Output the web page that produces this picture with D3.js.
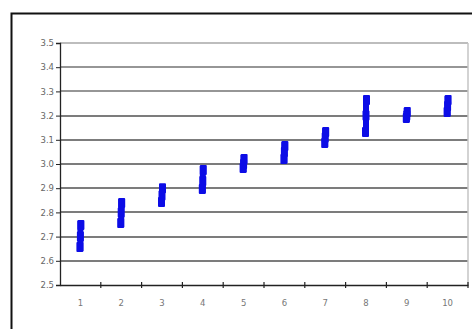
<!DOCTYPE html>
<html><head><meta charset="utf-8">
<script src="https://cdn.jsdelivr.net/npm/d3@7"></script>
<style>body{margin:0;background:#fff}svg{display:block}</style>
</head><body>
<script>
const categories = ["1","2","3","4","5","6","7","8","9","10"];
const highs = [2.748, 2.839, 2.900, 2.975, 3.021, 3.074, 3.132, 3.264, 3.215, 3.264];
const mids  = [2.700, 2.800, 2.870, 2.930, 3.000, 3.050, 3.110, 3.200, 3.200, 3.240];
const lows  = [2.657, 2.756, 2.843, 2.897, 2.983, 3.021, 3.087, 3.132, 3.190, 3.215];
const yTicks = [2.5, 2.6, 2.7, 2.8, 2.9, 3.0, 3.1, 3.2, 3.3, 3.4, 3.5];

const W = 472, H = 329;
const svg = d3.select("body").append("svg").attr("width", W).attr("height", H);
svg.append("rect").attr("width", W).attr("height", H).attr("fill", "#fff");

const x0 = 60, x1 = 468, yTop = 43, yBot = 285;
const x = d3.scaleBand().domain(categories).range([x0, x1]).padding(0);
const y = d3.scaleLinear().domain([2.5, 3.5]).range([yBot, yTop]);

// gridlines
svg.append("g").selectAll("line").data(yTicks.slice(1)).join("line")
  .attr("x1", x0).attr("x2", x1)
  .attr("y1", d => Math.round(y(d))).attr("y2", d => Math.round(y(d)))
  .style("stroke", d => d === 3.5 ? "#bdbdbd" : (d >= 3.3 ? "#969696" : "#7c7c7c"))
  .style("stroke-width", "2px");

// plot area right border
svg.append("line").attr("x1", x1).attr("x2", x1).attr("y1", yTop).attr("y2", yBot)
  .style("stroke", "#c4c4c4").style("stroke-width", "1.5px");

// outer chart border
svg.append("path").attr("d", `M11.5,${H + 2} V13.5 H${W + 2}`)
  .style("fill", "none").style("stroke", "#111").style("stroke-width", "2px");

// y axis
const yAxis = d3.axisLeft(y).tickValues(yTicks).tickFormat(d3.format(".1f")).tickSize(4).tickPadding(2);
const gy = svg.append("g").attr("transform", `translate(${x0},0)`).call(yAxis);
gy.select(".domain").style("stroke", "#222").style("stroke-width", "1.3px");
gy.selectAll(".tick line").style("stroke", "#222");
gy.selectAll("text").style("font-family", "DejaVu Sans, sans-serif").style("font-size", "8.5px")
  .style("fill", "#666");

// x axis
const xAxis = d3.axisBottom(x).tickSize(0).tickPadding(15);
const gx = svg.append("g").attr("transform", `translate(0,${yBot})`).call(xAxis);
gx.select(".domain").style("stroke", "#222").style("stroke-width", "1.3px");
gx.selectAll("text").style("font-family", "DejaVu Sans, sans-serif").style("font-size", "8.5px")
  .style("fill", "#777");
const tickPos = categories.slice(1).map(c => x(c)).concat([x1]);
gx.append("g").selectAll("line").data(tickPos).join("line")
  .attr("x1", d => d).attr("x2", d => d)
  .attr("y1", -3).attr("y2", 3).style("stroke", "#222").style("stroke-width", "1.2px");

// range bars
const blue = "#0c0ce6";
const g = svg.append("g");
categories.forEach((c, i) => {
  const cx = x(c) + x.bandwidth() / 2;
  g.append("rect").attr("x", cx - 3).attr("width", 6)
    .attr("y", y(highs[i]) - 4).attr("height", y(lows[i]) - y(highs[i]) + 8).style("fill", blue);
  [highs[i], mids[i], lows[i]].forEach((v, k) => {
    g.append("rect").attr("x", cx - 3.5 + (k === 0 ? 0.5 : k === 2 ? -0.5 : 0)).attr("width", 7)
      .attr("y", y(v) - 5).attr("height", 10).attr("rx", 1).style("fill", blue);
  });
});
</script>
</body></html>
